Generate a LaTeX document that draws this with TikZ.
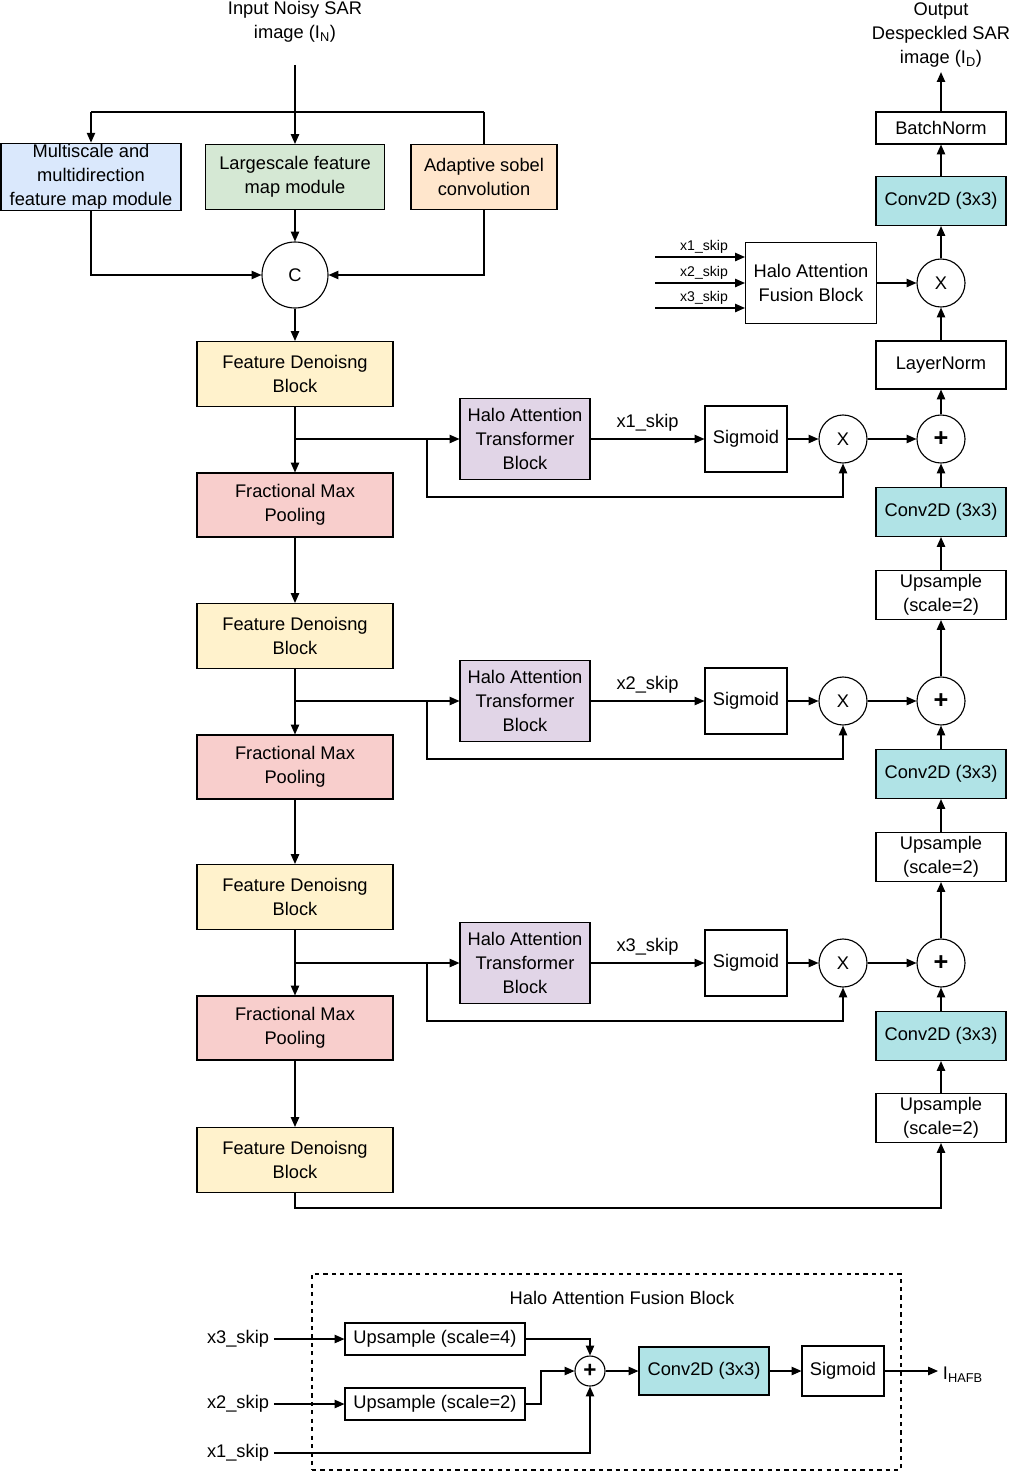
\documentclass[tikz,border=0pt]{standalone}
\usepackage{fontspec}
\setmainfont{Liberation Sans}
\usetikzlibrary{arrows.meta}
\definecolor{cblue}{HTML}{DAE8FC}
\definecolor{cgreen}{HTML}{D5E8D4}
\definecolor{corange}{HTML}{FFE6CC}
\definecolor{cyel}{HTML}{FFF2CC}
\definecolor{cred}{HTML}{F8CECC}
\definecolor{cvio}{HTML}{E1D5E7}
\definecolor{ccyan}{HTML}{B0E3E6}
\begin{document}
\begin{tikzpicture}[x=0.025cm,y=-0.025cm,
  font=\fontsize{13}{17}\selectfont,
  box/.style={draw,thick,align=center,inner sep=1pt},
  bw/.style={minimum width=#1*0.025cm},
  bh/.style={minimum height=#1*0.025cm},
  fdb/.style={box,fill=cyel,bw=196,bh=65},
  fmp/.style={box,fill=cred,bw=196,bh=64},
  hatb/.style={box,fill=cvio,bw=130,bh=81},
  sig/.style={box,bw=82,bh=66},
  conv/.style={box,fill=ccyan,bw=130,bh=49},
  ups/.style={box,bw=130,bh=49},
  circ/.style={draw,thick,circle,inner sep=0pt,minimum size=48*0.025cm},
  ar/.style={thick,-{Triangle[length=7pt,width=6pt]}},
  ln/.style={thick}]
\useasboundingbox (0,0) rectangle (1016,1472);
% top
\node[align=center] (in) at (295,22) {Input Noisy SAR\\image (I$_\mathrm{N}$)};
\coordinate (inS) at (295,65);
\node[box,fill=cblue,bw=180,bh=65] (ms) at (91,177) {Multiscale and\\multidirection\\feature map module};
\node[box,fill=cgreen,bw=179,bh=65] (ls) at (295,177) {Largescale feature\\map module};
\node[box,fill=corange,bw=146,bh=65] (as) at (484,177) {Adaptive sobel\\convolution};
\node[circ,minimum size=66*0.025cm] (c) at (295,275) {C};
\draw[ar] (inS) -- (ls);
\coordinate (b1) at (91,112); \coordinate (b2) at (484,112);
\draw[ln] (b1) -- (b2);
\draw[ar] (b1) -- (ms);
\draw[ln] (b2) -- (as);
\draw[ar] (ms.south) |- (c);
\draw[ar] (as.south) |- (c);
\draw[ar] (ls) -- (c);
% left column
\node[fdb] (f1) at (295,374) {Feature Denoisng\\Block};
\node[fmp] (p1) at (295,505) {Fractional Max\\Pooling};
\node[fdb] (f2) at (295,636) {Feature Denoisng\\Block};
\node[fmp] (p2) at (295,767) {Fractional Max\\Pooling};
\node[fdb] (f3) at (295,897) {Feature Denoisng\\Block};
\node[fmp] (p3) at (295,1028) {Fractional Max\\Pooling};
\node[fdb] (f4) at (295,1160) {Feature Denoisng\\Block};
\draw[ar] (c) -- (f1);
\draw[ar] (f1) -- (p1); \draw[ar] (p1) -- (f2); \draw[ar] (f2) -- (p2);
\draw[ar] (p2) -- (f3); \draw[ar] (f3) -- (p3); \draw[ar] (p3) -- (f4);
% right column
\node[conv] (cv1) at (941,512) {Conv2D (3x3)};
\node[ups] (u1) at (941,595) {Upsample\\(scale=2)};
\node[conv] (cv2) at (941,774) {Conv2D (3x3)};
\node[ups] (u2) at (941,857) {Upsample\\(scale=2)};
\node[conv] (cv3) at (941,1036) {Conv2D (3x3)};
\node[ups] (u3) at (941,1118) {Upsample\\(scale=2)};
\node[box,bw=130,bh=48] (lnm) at (941,365) {LayerNorm};
\node[circ] (xt) at (941,283) {X};
\node[conv] (cv0) at (941,201) {Conv2D (3x3)};
\node[box,bw=130,bh=32] (bn) at (941,128) {BatchNorm};
\node[align=center] (out) at (941,35) {Output\\Despeckled SAR\\image (I$_\mathrm{D}$)};
\draw[ar] (bn) -- (out);
\draw[ar] (cv0) -- (bn);
\draw[ar] (xt) -- (cv0);
\draw[ar] (lnm) -- (xt);
\node[box,bw=131,bh=81] (hafb) at (811,283) {Halo Attention\\Fusion Block};
\draw[ar] (hafb) -- (xt);
\foreach \i/\yy in {1/257,2/283,3/308}{
  \coordinate (s\i) at (655,\yy);
  \draw[ar] (s\i) -- (hafb.west |- s\i);
  \node[font=\fontsize{10}{12}\selectfont] (sl\i) at (704,\yy-10) {x\i\_skip};
}
% skip rows
\foreach \k/\yy/\cv/\up in {1/439/cv1/lnm,2/701/cv2/u1,3/963/cv3/u2}{
  \node[hatb] (h\k) at (525,\yy) {Halo Attention\\Transformer\\Block};
  \node[sig] (sg\k) at (746,\yy) {Sigmoid};
  \node[circ] (x\k) at (843,\yy) {X};
  \node[circ,font=\fontsize{18}{18}\selectfont\bfseries] (pl\k) at (941,\yy) {+};
  \coordinate (t\k) at (295,\yy);
  \coordinate (d\k) at (427,\yy);
  \draw[ar] (t\k) -- (h\k);
  \draw[ar] (d\k) -- (427,\yy+58) -| (x\k);
  \draw[ar] (h\k) -- node[above=2pt] {x\k\_skip} (sg\k);
  \draw[ar] (sg\k) -- (x\k);
  \draw[ar] (x\k) -- (pl\k);
  \draw[ar] (\cv) -- (pl\k);
  \draw[ar] (pl\k) -- (\up);
}
\draw[ar] (u2) -- (cv2);
\draw[ar] (u3) -- (cv3);
\draw[ar] (u1) -- (cv1);
\draw[ar] (f4.south) -- (295,1208) -| (u3.south);
% bottom block
\node[draw,thick,dashed,minimum width=589*0.025cm,minimum height=196*0.025cm] (hb) at (606.5,1372) {};
\node (ht) at (622,1298) {Halo Attention Fusion Block};
\node (l3) at (238,1339) {x3\_skip};
\node (l2) at (238,1404) {x2\_skip};
\node (l1) at (238,1453) {x1\_skip};
\node[box,bw=180,bh=32] (up4) at (435,1339) {Upsample (scale=4)};
\node[box,bw=180,bh=32] (up2) at (435,1404) {Upsample (scale=2)};
\node[circ,minimum size=30*0.025cm,font=\fontsize{16}{16}\selectfont\bfseries] (pb) at (590,1371) {+};
\node[conv,bw=130,bh=48] (cb) at (704,1371) {Conv2D (3x3)};
\node[box,bw=82,bh=50] (sb) at (843,1371) {Sigmoid};
\node[anchor=west] (ih) at (938,1375) {I$_\mathrm{HAFB}$};
\draw[ar] (l3) -- (up4);
\draw[ar] (l2) -- (up2);
\draw[ar] (l1) -| (pb);
\draw[ar] (up4) -| (pb);
\draw[ar] (up2.east) -- (541,1404) |- (pb);
\draw[ar] (pb) -- (cb);
\draw[ar] (cb) -- (sb);
\draw[ar] (sb) -- (sb -| ih.west);
\end{tikzpicture}
\end{document}
